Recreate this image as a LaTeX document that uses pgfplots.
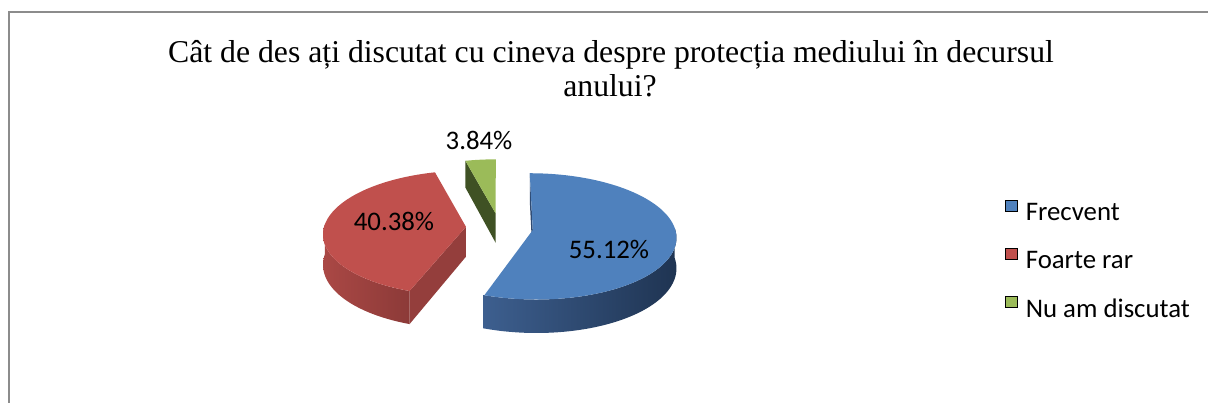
\documentclass[border=0pt]{standalone}
\usepackage{fontspec}
\usepackage{pgfplots}
\pgfplotsset{compat=1.18}
\newfontfamily\carl{Carlito}
\newfontfamily\tms{Liberation Serif}
\definecolor{blueT}{HTML}{4F81BD}
\definecolor{blueS1}{HTML}{3D5F8F}
\definecolor{blueS2}{HTML}{1F3452}
\definecolor{blueC}{HTML}{2E4A72}
\definecolor{redT}{HTML}{C0504D}
\definecolor{redS1}{HTML}{AA4845}
\definecolor{redS2}{HTML}{8C3A38}
\definecolor{redC}{HTML}{943E3C}
\definecolor{greenT}{HTML}{9BBB59}
\definecolor{greenC}{HTML}{3F5124}
\definecolor{frame}{HTML}{8C8C8C}
\begin{document}
\begin{tikzpicture}[declare function={
 PX(\X,\Y)=499.5+142*\X/(1+0.1*\Y);
 PY(\Y)=227.5-62*\Y/(1+0.1*\Y);
 PT(\Y)=30/(1+0.1*\Y);
 thS(\s,\a,\b)=ifthenelse(\s<=1,\a+(\b-\a)*min(\s/0.99,1),\b-(\b-\a)*max((\s-1.01)/0.99,0));
}]
% data (percent)
\def\vA{55.12}\def\vB{40.38}\def\vC{3.84}
\pgfmathsetmacro\tot{\vA+\vB+\vC}
\pgfmathsetmacro\tB{(\vA/\tot)*360}
\pgfmathsetmacro\tR{\tB+(\vB/\tot)*360}
\def\ex{0.237}
\pgfmathsetmacro\oxB{\ex*sin(\tB/2)}
\pgfmathsetmacro\oyB{\ex*cos(\tB/2)}
\pgfmathsetmacro\oxR{\ex*sin((\tB+\tR)/2)}
\pgfmathsetmacro\oyR{\ex*cos((\tB+\tR)/2)}
\pgfmathsetmacro\oxG{\ex*sin((\tR+360)/2)}
\pgfmathsetmacro\oyG{\ex*cos((\tR+360)/2)}
% apexes and cut edges
\pgfmathsetmacro\axB{PX(\oxB,\oyB)}\pgfmathsetmacro\ayB{PY(\oyB)}\pgfmathsetmacro\abB{\ayB+PT(\oyB)}
\pgfmathsetmacro\rxB{PX(\oxB,\oyB+1)}\pgfmathsetmacro\ryB{PY(\oyB+1)}\pgfmathsetmacro\rbB{\ryB+PT(\oyB+1)}
\pgfmathsetmacro\axR{PX(\oxR,\oyR)}\pgfmathsetmacro\ayR{PY(\oyR)}\pgfmathsetmacro\abR{\ayR+PT(\oyR)}
\pgfmathsetmacro\rxR{PX(\oxR+sin(\tB),\oyR+cos(\tB))}\pgfmathsetmacro\ryR{PY(\oyR+cos(\tB))}\pgfmathsetmacro\rbR{\ryR+PT(\oyR+cos(\tB))}
\pgfmathsetmacro\axG{PX(\oxG,\oyG)}\pgfmathsetmacro\ayG{PY(\oyG)}\pgfmathsetmacro\abG{\ayG+PT(\oyG)}
\pgfmathsetmacro\rxG{PX(\oxG+sin(\tR),\oyG+cos(\tR))}\pgfmathsetmacro\ryG{PY(\oyG+cos(\tR))}\pgfmathsetmacro\rbG{\ryG+PT(\oyG+cos(\tR))}
\begin{axis}[
  scale only axis, width=906pt, height=302.25pt,
  xmin=0, xmax=1208, ymin=0, ymax=403, y dir=reverse,
  hide axis, clip=false,
  legend image code/.code={\fill[#1] (0pt,1.5pt) rectangle (9pt,10pt);},
  legend style={at={(axis cs:1005,199.5)}, anchor=north west, draw=none, fill=none,
    inner sep=0pt, row sep=18.6pt, column sep=6pt,
    nodes={inner sep=0pt, font=\carl\fontsize{20.1}{24}\selectfont}},
  legend cell align=left,
]
% frame
\addplot[frame, line width=1.5pt, forget plot] coordinates {(8.5,403) (8.5,12) (1208,12)};
% legend
\addlegendimage{fill=blueT}\addlegendentry{Frecvent}
\addlegendimage{fill=redT}\addlegendentry{Foarte rar}
\addlegendimage{fill=greenT}\addlegendentry{Nu am discutat}
% green slice
\addplot[fill=greenC, draw=none, forget plot] coordinates {(\rxG,\ryG) (\axG,\ayG) (\axG,\abG) (\rxG,\rbG)};
\addplot[fill=greenT, draw=none, forget plot, domain=0:1.02, samples=52, variable=\s]
 ({ifthenelse(\s>1.001, PX(\oxG,\oyG), PX(\oxG+sin(\tR+(360-\tR)*\s),\oyG+cos(\tR+(360-\tR)*\s)))},
  {ifthenelse(\s>1.001, PY(\oyG), PY(\oyG+cos(\tR+(360-\tR)*\s)))});
% red slice
\addplot[draw=none, left color=redS1, right color=redS2, forget plot, domain=0:2, samples=201, variable=\s]
 ({PX(\oxR+sin(thS(\s,\tB,272)),\oyR+cos(thS(\s,\tB,272)))},
  {PY(\oyR+cos(thS(\s,\tB,272)))+(\s>1)*PT(\oyR+cos(thS(\s,\tB,272)))});
\addplot[fill=redC, draw=none, forget plot] coordinates {(\axR,\ayR) (\rxR,\ryR) (\rxR,\rbR) (\axR,\abR)};
\addplot[fill=redT, draw=none, forget plot, domain=0:1.02, samples=72, variable=\s]
 ({ifthenelse(\s>1.001, PX(\oxR,\oyR), PX(\oxR+sin(\tB+(\tR-\tB)*\s),\oyR+cos(\tB+(\tR-\tB)*\s)))},
  {ifthenelse(\s>1.001, PY(\oyR), PY(\oyR+cos(\tB+(\tR-\tB)*\s)))});
% blue slice
\addplot[fill=blueC, draw=none, forget plot] coordinates {(\rxB,\ryB) (\axB,\ayB) (\axB,\abB) (\rxB,\rbB)};
\addplot[draw=none, left color=blueS1, right color=blueS2, forget plot, domain=0:2, samples=201, variable=\s]
 ({PX(\oxB+sin(thS(\s,88,\tB)),\oyB+cos(thS(\s,88,\tB)))},
  {PY(\oyB+cos(thS(\s,88,\tB)))+(\s>1)*PT(\oyB+cos(thS(\s,88,\tB)))});
\addplot[fill=blueT, draw=none, forget plot, domain=0:1.02, samples=92, variable=\s]
 ({ifthenelse(\s>1.001, PX(\oxB,\oyB), PX(\oxB+sin(\tB*\s),\oyB+cos(\tB*\s)))},
  {ifthenelse(\s>1.001, PY(\oyB), PY(\oyB+cos(\tB*\s)))});
% labels
\node[font=\carl\fontsize{20.1}{24}\selectfont, inner sep=0pt] at (axis cs:609,249.5) {55.12\%};
\node[font=\carl\fontsize{20.1}{24}\selectfont, inner sep=0pt] at (axis cs:394,221.5) {40.38\%};
\node[font=\carl\fontsize{20.1}{24}\selectfont, inner sep=0pt] at (axis cs:479,140.5) {3.84\%};
% title
\node[font=\tms\fontsize{23.8}{28}\selectfont, anchor=base, inner sep=0pt] at (axis cs:611,62.3) {Cât de des ați discutat cu cineva despre protecția mediului în decursul};
\node[font=\tms\fontsize{23.8}{28}\selectfont, anchor=base, inner sep=0pt] at (axis cs:610,97) {anului?};
\end{axis}
\pgfresetboundingbox
\useasboundingbox (current axis.south west) rectangle (current axis.north east);
\end{tikzpicture}
\end{document}
